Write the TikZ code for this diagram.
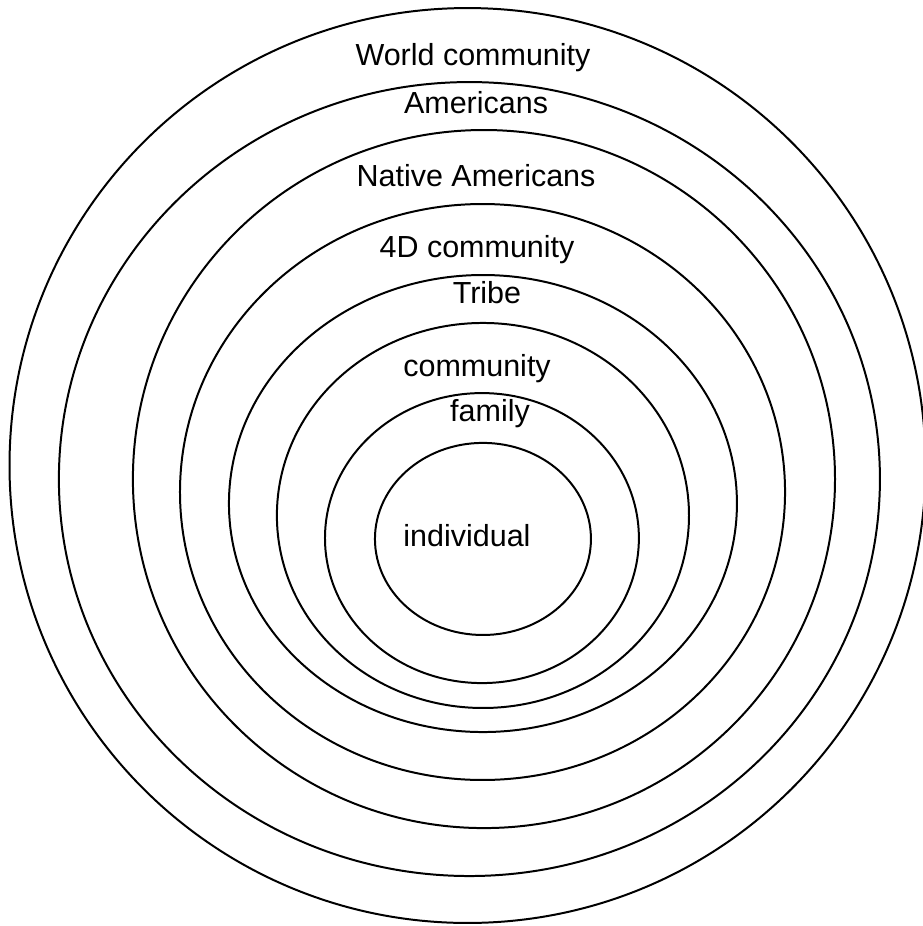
\documentclass[tikz,border=0pt]{standalone}
\usepackage{fontspec}
\setmainfont{Liberation Sans}
\usetikzlibrary{positioning}

\begin{document}
\begin{tikzpicture}[x=1in,y=1in,
  ring/.style={line width=1pt},
  lbl/.style={anchor=base,inner sep=0pt,font=\fontsize{15.3}{18}\selectfont}]
\useasboundingbox (0,0) rectangle (6.410,6.431);
% rings, outside in
\draw[ring] (3.247,3.198) ellipse [x radius=3.181,y radius=3.177];
\draw[ring] (3.260,3.104) ellipse [x radius=2.851,y radius=2.757];
\draw[ring] (3.361,3.104) ellipse [x radius=2.438,y radius=2.424];
\draw[ring] (3.351,3.014) ellipse [x radius=2.101,y radius=2.000];
\draw[ring] (3.354,2.934) ellipse [x radius=1.764,y radius=1.587];
\draw[ring] (3.354,2.851) ellipse [x radius=1.431,y radius=1.337];
\draw[ring] (3.347,2.694) ellipse [x radius=1.090,y radius=1.007];
\draw[ring] (3.354,2.688) ellipse [x radius=0.750,y radius=0.667];
% labels
\node[lbl] (world) at (3.285,5.979) {World community};
\node[lbl] (amer) at (3.306,5.644) {Americans};
\node[lbl] (native) at (3.306,5.134) {Native Americans};
\node[lbl] (fourd) at (3.313,4.642) {4D community};
\node[lbl] (tribe) at (3.382,4.326) {Tribe};
\node[lbl] (comm) at (3.313,3.813) {community};
\node[lbl] (family) at (3.403,3.502) {family};
\node[lbl] (indiv) at (3.243,2.634) {individual};
\end{tikzpicture}
\end{document}
